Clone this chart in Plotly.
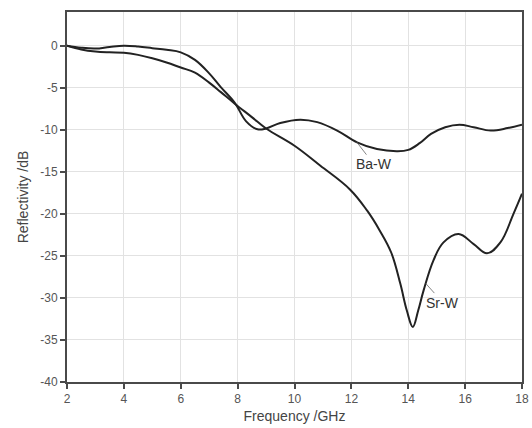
import plotly.graph_objects as go

# Frequency (GHz) and reflectivity (dB) for the two absorbers
ba_freq = [2, 2.5, 3, 3.5, 4, 4.5, 5, 5.5, 6, 6.5, 7, 7.4, 7.9, 8.3, 8.7, 9.0,
           9.5, 10.2, 10.8, 11.5, 12.2, 12.9, 13.6, 14.0, 14.4, 14.8, 15.3,
           15.8, 16.3, 16.9, 17.5, 18]
ba_refl = [0, -0.25, -0.35, -0.15, 0.0, -0.1, -0.3, -0.5, -0.8, -1.7, -3.3,
           -4.9, -6.8, -9.0, -9.95, -9.85, -9.2, -8.8, -9.1, -10.1, -11.5,
           -12.3, -12.55, -12.4, -11.6, -10.5, -9.7, -9.4, -9.7, -10.1, -9.8,
           -9.4]

sr_freq = [2, 2.5, 3, 3.5, 4, 4.5, 5, 5.5, 6, 6.5, 7, 7.4, 7.9, 8.5, 9.0,
           10.0, 10.9, 11.95, 12.55, 13.0, 13.4, 13.72, 13.95, 14.16, 14.35,
           14.54, 14.89, 15.24, 15.77, 16.3, 16.77, 17.24, 17.7, 18]
sr_refl = [0, -0.45, -0.7, -0.8, -0.85, -1.1, -1.5, -2.0, -2.6, -3.2, -4.4,
           -5.5, -6.9, -8.5, -9.85, -11.9, -14.25, -17.1, -19.6, -22.0, -24.6,
           -28.3, -31.5, -33.45, -31.5, -29.1, -25.5, -23.4, -22.4, -23.6,
           -24.7, -23.4, -20.0, -17.6]

x_ticks = [2, 4, 6, 8, 10, 12, 14, 16, 18]
y_ticks = [0, -5, -10, -15, -20, -25, -30, -35, -40]
y_tick_text = ["0", "-5", "-10", "-15", "-20", "-25", "-30", "-35", "-40"]

# Label anchor points on each curve
ba_label = ("Ba-W", 12.19, -11.48)
sr_label = ("Sr-W", 14.62, -28.3)

FONT = "Liberation Sans, Arial"
line_style = dict(color="#222222", width=2, shape="spline", smoothing=1.1)

fig = go.Figure()
fig.add_trace(go.Scatter(x=ba_freq, y=ba_refl, mode="lines", name="Ba-W",
                         line=line_style))
fig.add_trace(go.Scatter(x=sr_freq, y=sr_refl, mode="lines", name="Sr-W",
                         line=line_style))

for (text, lx, ly), ax, ay in [(ba_label, 17, 22), (sr_label, 17, 19)]:
    fig.add_annotation(x=lx, y=ly, text=text, showarrow=True, arrowhead=0,
                       arrowwidth=0.8, arrowcolor="#666666", ax=ax, ay=ay,
                       font=dict(family=FONT, size=14, color="#333333"))

axis_common = dict(
    showgrid=True, gridcolor="#e2e2e2", gridwidth=1,
    showline=True, linecolor="#4a4a4a", linewidth=2, mirror=True,
    ticks="outside", ticklen=5, tickwidth=1.5, tickcolor="#4a4a4a",
    tickfont=dict(family=FONT, size=12, color="#555555"),
    zeroline=False, automargin=False,
)

fig.update_xaxes(range=[2, 18], tickvals=x_ticks,
                 title=dict(text="Frequency /GHz", standoff=6,
                            font=dict(family=FONT, size=14, color="#444444")),
                 **axis_common)
fig.update_yaxes(range=[-40, 4], tickvals=y_ticks, ticktext=y_tick_text,
                 title=dict(text="Reflectivity /dB", standoff=8,
                            font=dict(family=FONT, size=14, color="#444444")),
                 **axis_common)

fig.update_layout(
    width=532, height=428,
    margin=dict(l=67, r=10, t=12, b=46),
    plot_bgcolor="white", paper_bgcolor="white",
    showlegend=False,
)

fig.write_html("out.html")
